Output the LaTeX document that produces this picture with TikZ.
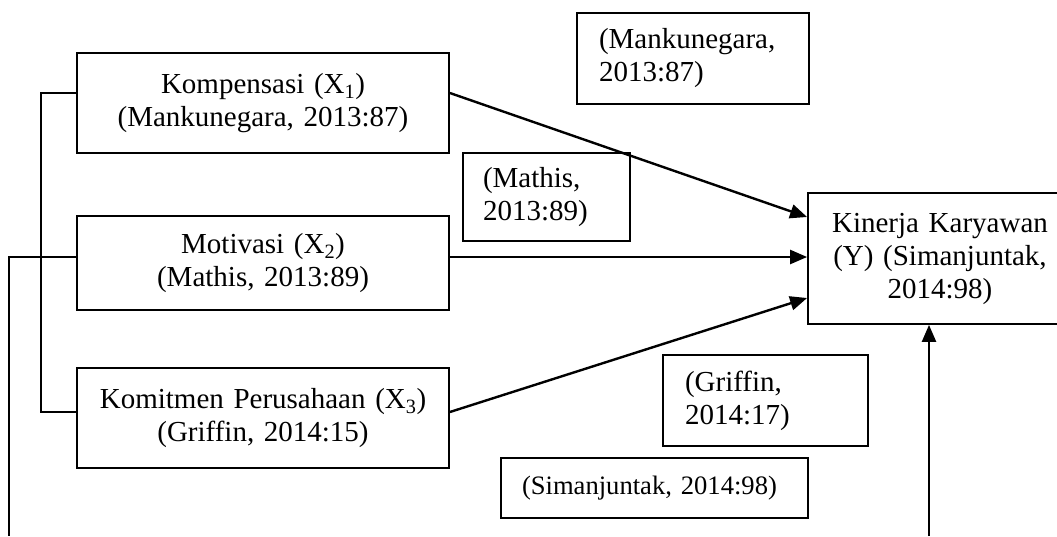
\documentclass[tikz,border=0pt]{standalone}
\usepackage{fontspec}
\setmainfont{Liberation Serif}
\usetikzlibrary{arrows.meta}
\tikzset{
  mainbox/.style={draw, line width=1.8pt, align=center, inner xsep=5pt, inner ysep=0pt,
    text width=362pt, minimum width=372pt},
  refbox/.style={draw, line width=1.8pt, align=left, inner ysep=0pt},
  link/.style={line width=2pt},
  arr/.style={line width=2.4pt, -{Triangle[length=17pt,width=14pt]}}
}
\begin{document}
\begin{tikzpicture}[x=1pt, y=-1pt, font=\fontsize{29pt}{33pt}\selectfont]
\clip (0,0) rectangle (1057,536);
% main variable boxes
\node[mainbox, minimum height=100pt] (k1) at (263,103) {Kompensasi (X\textsubscript{1})\\(Mankunegara, 2013:87)};
\node[mainbox, minimum height=94pt] (k2) at (263,263) {Motivasi (X\textsubscript{2})\\(Mathis, 2013:89)};
\node[mainbox, minimum height=100pt] (k3) at (263,418) {Komitmen Perusahaan (X\textsubscript{3})\\(Griffin, 2014:15)};
\node[draw, line width=1.8pt, align=center, inner sep=0pt, text width=264pt, minimum height=131pt] (y) at (940,258.5)
  {Kinerja Karyawan\\(Y) (Simanjuntak,\\2014:98)};
% reference boxes
\node[refbox, inner xsep=22pt, text width=188pt, minimum height=91pt] (r1) at (693,58.5) {(Mankunegara,\\2013:87)};
\node[refbox, inner xsep=20pt, text width=127pt, minimum height=88pt] (r2) at (546.5,197) {(Mathis,\\2013:89)};
\node[refbox, inner xsep=22pt, text width=161pt, minimum height=91pt] (r3) at (765.5,400.5) {(Griffin,\\2014:17)};
\node[refbox, inner xsep=21pt, text width=265pt, minimum height=60pt, font=\fontsize{26.6pt}{30pt}\selectfont] (r4) at (654.5,488) {(Simanjuntak, 2014:98)};
% free ends at the bottom edge
\coordinate (ob) at (9,536);
\coordinate (ib) at (929,536);
% bracket joining the independent variables
\draw[link] ([yshift=10pt]k1.west) -- ++(-35,0) |- ([yshift=6pt]k3.west);
\draw[link] ([yshift=6pt]k2.west) -| (ob);
% arrows to Y
\draw[arr] ([yshift=10pt]k1.east) -- ([yshift=41.5pt]y.west);
\draw[arr] ([yshift=6pt]k2.east) -- ([yshift=1.5pt]y.west);
\draw[arr] ([yshift=6pt]k3.east) -- ([yshift=-39.5pt]y.west);
\draw[arr] (ib) -- (ib |- y.south);
\end{tikzpicture}
\end{document}
